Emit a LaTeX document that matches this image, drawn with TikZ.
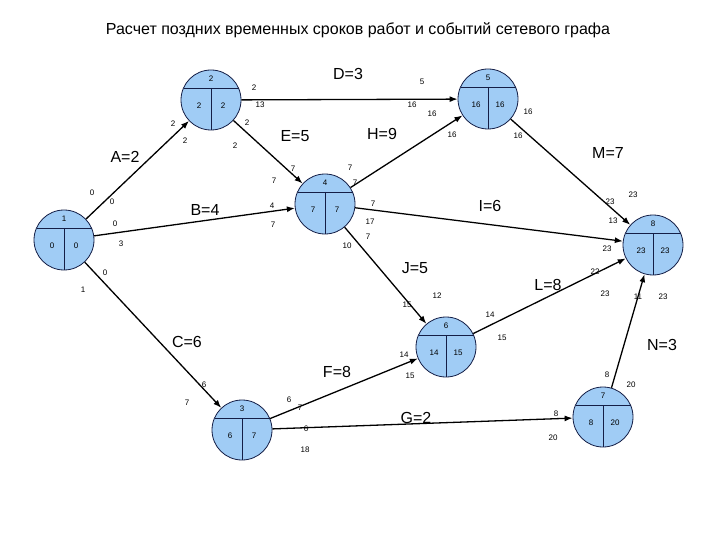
\documentclass[tikz,border=0pt]{standalone}
\usepackage{fontspec}
\setmainfont{Liberation Sans}
\usetikzlibrary{arrows.meta}
\definecolor{evfill}{RGB}{160,204,245}
\definecolor{evline}{RGB}{20,30,70}
\tikzset{
  ev/.style={circle,draw=evline,fill=evfill,minimum size=60pt,inner sep=0pt,line width=0.8pt},
  arc/.style={draw=black,line width=1.3pt,-{Latex[length=8pt,width=6pt]}},
  num/.style={font=\fontsize{8}{9}\selectfont,inner sep=0pt},
  act/.style={font=\fontsize{16}{18}\selectfont,inner sep=0pt},
}
\newcommand{\evnode}[6]{%
  \node[ev] (#1) at (#2,#3) {};
  \draw[evline,line width=0.8pt] ($(#1.center)+(-27.5,-12)$) -- ($(#1.center)+(27.5,-12)$);
  \draw[evline,line width=0.8pt] ($(#1.center)+(0,-12)$) -- ($(#1.center)+(0,30)$);
  \node[num] (#1t) at ($(#1.center)+(0,-21)$) {#4};
  \node[num] (#1l) at ($(#1.center)+(-12,6)$) {#5};
  \node[num] (#1r) at ($(#1.center)+(12,6)$) {#6};
}
\usetikzlibrary{calc}
\begin{document}
\begin{tikzpicture}[x=1pt,y=-1pt]
\useasboundingbox (0,0) rectangle (720,540);
\node[font=\fontsize{16}{18}\selectfont] (title) at (358,30) {Расчет поздних временных сроков работ и событий сетевого графа};
\evnode{n1}{64}{240}{1}{0}{0}
\evnode{n2}{211}{100}{2}{2}{2}
\evnode{n4}{325}{204}{4}{7}{7}
\evnode{n5}{488}{99}{5}{16}{16}
\evnode{n8}{653}{245}{8}{23}{23}
\evnode{n6}{446}{347}{6}{14}{15}
\evnode{n3}{242}{430}{3}{6}{7}
\evnode{n7}{603}{417}{7}{8}{20}
\draw[arc] (n1) -- (n2);
\draw[arc] (n1) -- (n4);
\draw[arc] (n1) -- (n3);
\draw[arc] (n2) -- (n5);
\draw[arc] (n2) -- (n4);
\draw[arc] (n4) -- (n5);
\draw[arc] (n4) -- (n8);
\draw[arc] (n4) -- (n6);
\draw[arc] (n5) -- (n8);
\draw[arc] (n6) -- (n8);
\draw[arc] (n3) -- (n6);
\draw[arc] (n3) -- (n7);
\draw[arc] (n7) -- (n8);
% activity labels
\node[act] (la) at (125,157) {A=2};
\node[act] (lb) at (205,210) {B=4};
\node[act] (lc) at (187,342) {C=6};
\node[act] (ld) at (348,74) {D=3};
\node[act] (le) at (295,136) {E=5};
\node[act] (lh) at (382,134) {H=9};
\node[act] (li) at (490,206) {I=6};
\node[act] (lj) at (415,268) {J=5};
\node[act] (ll) at (548,285) {L=8};
\node[act] (lm) at (608,153) {M=7};
\node[act] (lf) at (337,372) {F=8};
\node[act] (lg) at (416,418) {G=2};
\node[act] (ln) at (662,345) {N=3};
% small numbers
\foreach \x/\y/\t [count=\i] in {
 92/193/0, 112/202/0, 173/124/2, 185/141/2,
 115/224/0, 121/244/3, 272/206/4, 273/225/7,
 105/273/0, 83/290/1, 204/385/6, 187/403/7,
 254/88/2, 260/105/13, 422/82/5, 412/105/16,
 247/123/2, 235/146/2, 293/169/7, 274/181/7,
 350/168/7, 355/183/7, 432/114/16, 452/135/16,
 373/204/7, 370/222/17, 613/221/13, 607/249/23,
 347/246/10, 368/237/7, 437/296/12, 407/305/15,
 528/112/16, 518/136/16, 633/195/23, 610/202/23,
 490/315/14, 502/338/15, 595/272/22, 605/294/23,
 289/400/6, 300/408/7, 404/355/14, 410/376/15,
 306/429/6, 305/450/18, 556/414/8, 553/438/20,
 607/375/8, 631/385/20, 638/297/11, 663/297/23}
 \node[num] (s\i) at (\x,\y) {\t};
\end{tikzpicture}
\end{document}
